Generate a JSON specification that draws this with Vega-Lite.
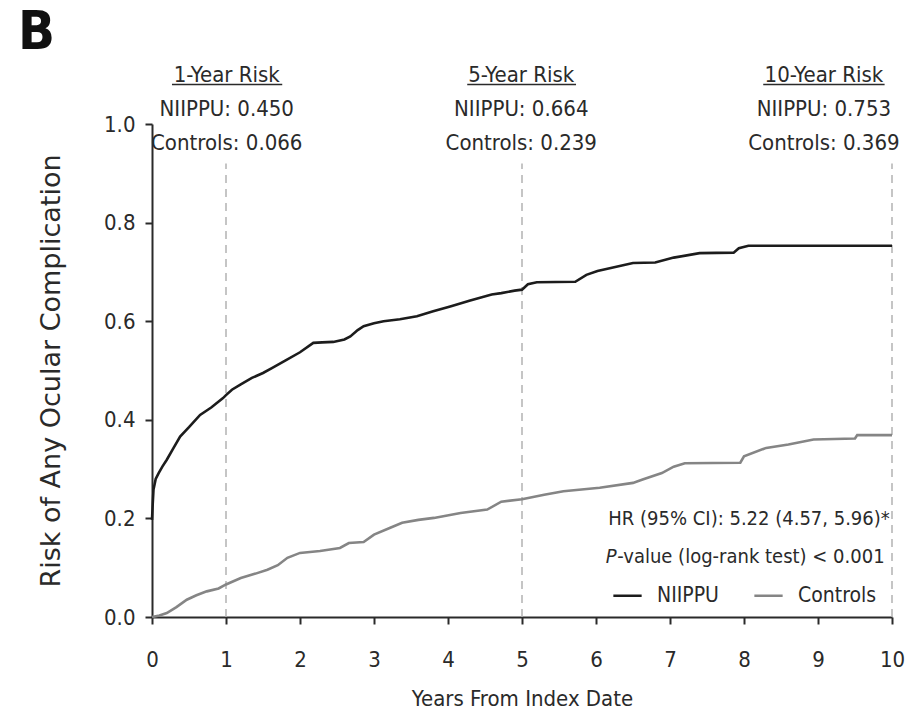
{
  "$schema": "https://vega.github.io/schema/vega-lite/v6.json",
  "width": 740,
  "height": 493,
  "autosize": "none",
  "padding": {"left": 152, "top": 124, "right": 26, "bottom": 100},
  "background": "white",
  "datasets": {
    "curves": [
      {"years": 0, "risk": 0.197, "group": "NIIPPU"},
      {"years": 0.01, "risk": 0.23, "group": "NIIPPU"},
      {"years": 0.02, "risk": 0.258, "group": "NIIPPU"},
      {"years": 0.05, "risk": 0.28, "group": "NIIPPU"},
      {"years": 0.09, "risk": 0.292, "group": "NIIPPU"},
      {"years": 0.14, "risk": 0.305, "group": "NIIPPU"},
      {"years": 0.2, "risk": 0.319, "group": "NIIPPU"},
      {"years": 0.28, "risk": 0.34, "group": "NIIPPU"},
      {"years": 0.38, "risk": 0.366, "group": "NIIPPU"},
      {"years": 0.5, "risk": 0.385, "group": "NIIPPU"},
      {"years": 0.65, "risk": 0.41, "group": "NIIPPU"},
      {"years": 0.8, "risk": 0.425, "group": "NIIPPU"},
      {"years": 0.96, "risk": 0.444, "group": "NIIPPU"},
      {"years": 1.0, "risk": 0.45, "group": "NIIPPU"},
      {"years": 1.08, "risk": 0.461, "group": "NIIPPU"},
      {"years": 1.2, "risk": 0.472, "group": "NIIPPU"},
      {"years": 1.35, "risk": 0.485, "group": "NIIPPU"},
      {"years": 1.5, "risk": 0.495, "group": "NIIPPU"},
      {"years": 1.62, "risk": 0.505, "group": "NIIPPU"},
      {"years": 1.8, "risk": 0.52, "group": "NIIPPU"},
      {"years": 2.0, "risk": 0.537, "group": "NIIPPU"},
      {"years": 2.18, "risk": 0.556, "group": "NIIPPU"},
      {"years": 2.3, "risk": 0.557, "group": "NIIPPU"},
      {"years": 2.45, "risk": 0.558, "group": "NIIPPU"},
      {"years": 2.6, "risk": 0.563, "group": "NIIPPU"},
      {"years": 2.68, "risk": 0.569, "group": "NIIPPU"},
      {"years": 2.78, "risk": 0.582, "group": "NIIPPU"},
      {"years": 2.86, "risk": 0.59, "group": "NIIPPU"},
      {"years": 3.0, "risk": 0.596, "group": "NIIPPU"},
      {"years": 3.13, "risk": 0.6, "group": "NIIPPU"},
      {"years": 3.35, "risk": 0.604, "group": "NIIPPU"},
      {"years": 3.58, "risk": 0.61, "group": "NIIPPU"},
      {"years": 3.8, "risk": 0.62, "group": "NIIPPU"},
      {"years": 4.03, "risk": 0.63, "group": "NIIPPU"},
      {"years": 4.3, "risk": 0.642, "group": "NIIPPU"},
      {"years": 4.59, "risk": 0.654, "group": "NIIPPU"},
      {"years": 4.72, "risk": 0.657, "group": "NIIPPU"},
      {"years": 4.9, "risk": 0.662, "group": "NIIPPU"},
      {"years": 5.0, "risk": 0.664, "group": "NIIPPU"},
      {"years": 5.08, "risk": 0.675, "group": "NIIPPU"},
      {"years": 5.2, "risk": 0.679, "group": "NIIPPU"},
      {"years": 5.72, "risk": 0.68, "group": "NIIPPU"},
      {"years": 5.87, "risk": 0.694, "group": "NIIPPU"},
      {"years": 6.02, "risk": 0.702, "group": "NIIPPU"},
      {"years": 6.2, "risk": 0.708, "group": "NIIPPU"},
      {"years": 6.5, "risk": 0.718, "group": "NIIPPU"},
      {"years": 6.8, "risk": 0.719, "group": "NIIPPU"},
      {"years": 7.05, "risk": 0.729, "group": "NIIPPU"},
      {"years": 7.4, "risk": 0.738, "group": "NIIPPU"},
      {"years": 7.86, "risk": 0.739, "group": "NIIPPU"},
      {"years": 7.93, "risk": 0.748, "group": "NIIPPU"},
      {"years": 8.06, "risk": 0.753, "group": "NIIPPU"},
      {"years": 10, "risk": 0.753, "group": "NIIPPU"},
      {"years": 0, "risk": 0, "group": "Controls"},
      {"years": 0.1, "risk": 0.003, "group": "Controls"},
      {"years": 0.2, "risk": 0.008, "group": "Controls"},
      {"years": 0.33, "risk": 0.02, "group": "Controls"},
      {"years": 0.47, "risk": 0.035, "group": "Controls"},
      {"years": 0.6, "risk": 0.044, "group": "Controls"},
      {"years": 0.74, "risk": 0.052, "group": "Controls"},
      {"years": 0.9, "risk": 0.058, "group": "Controls"},
      {"years": 1.0, "risk": 0.066, "group": "Controls"},
      {"years": 1.2, "risk": 0.079, "group": "Controls"},
      {"years": 1.4, "risk": 0.088, "group": "Controls"},
      {"years": 1.56, "risk": 0.096, "group": "Controls"},
      {"years": 1.7, "risk": 0.105, "group": "Controls"},
      {"years": 1.83, "risk": 0.12, "group": "Controls"},
      {"years": 2.0, "risk": 0.13, "group": "Controls"},
      {"years": 2.27, "risk": 0.134, "group": "Controls"},
      {"years": 2.54, "risk": 0.14, "group": "Controls"},
      {"years": 2.66, "risk": 0.15, "group": "Controls"},
      {"years": 2.86, "risk": 0.152, "group": "Controls"},
      {"years": 3.0, "risk": 0.167, "group": "Controls"},
      {"years": 3.22, "risk": 0.181, "group": "Controls"},
      {"years": 3.38, "risk": 0.191, "group": "Controls"},
      {"years": 3.6, "risk": 0.197, "group": "Controls"},
      {"years": 3.81, "risk": 0.201, "group": "Controls"},
      {"years": 4.17, "risk": 0.211, "group": "Controls"},
      {"years": 4.53, "risk": 0.218, "group": "Controls"},
      {"years": 4.72, "risk": 0.234, "group": "Controls"},
      {"years": 5.0, "risk": 0.239, "group": "Controls"},
      {"years": 5.3, "risk": 0.248, "group": "Controls"},
      {"years": 5.56, "risk": 0.255, "group": "Controls"},
      {"years": 6.05, "risk": 0.262, "group": "Controls"},
      {"years": 6.5, "risk": 0.272, "group": "Controls"},
      {"years": 6.63, "risk": 0.279, "group": "Controls"},
      {"years": 6.89, "risk": 0.292, "group": "Controls"},
      {"years": 7.05, "risk": 0.305, "group": "Controls"},
      {"years": 7.2, "risk": 0.312, "group": "Controls"},
      {"years": 7.95, "risk": 0.313, "group": "Controls"},
      {"years": 8.0, "risk": 0.326, "group": "Controls"},
      {"years": 8.3, "risk": 0.343, "group": "Controls"},
      {"years": 8.6, "risk": 0.35, "group": "Controls"},
      {"years": 8.94, "risk": 0.36, "group": "Controls"},
      {"years": 9.5, "risk": 0.362, "group": "Controls"},
      {"years": 9.53, "risk": 0.369, "group": "Controls"},
      {"years": 10, "risk": 0.369, "group": "Controls"}
    ],
    "markers": [{"year": 1}, {"year": 5}, {"year": 10}],
    "one": [{}]
  },
  "layer": [
    {
      "data": {"name": "markers"},
      "mark": {"type": "rule", "strokeDash": [8, 6], "color": "#b3b3b3", "strokeWidth": 1.5},
      "encoding": {
        "x": {"field": "year", "type": "quantitative", "scale": {"domain": [0, 10], "nice": false}},
        "y": {"datum": 0, "type": "quantitative"},
        "y2": {"datum": 0.92}
      }
    },
    {
      "data": {"name": "curves"},
      "mark": {"type": "line", "strokeWidth": 2.6, "interpolate": "linear"},
      "encoding": {
        "x": {"field": "years", "type": "quantitative", "scale": {"domain": [0, 10], "nice": false},
          "axis": {"values": [0, 1, 2, 3, 4, 5, 6, 7, 8, 9, 10], "format": "d", "title": "Years From Index Date"}},
        "y": {"field": "risk", "type": "quantitative", "scale": {"domain": [0, 1], "nice": false},
          "axis": {"values": [0, 0.2, 0.4, 0.6, 0.8, 1.0], "format": ".1f", "title": "Risk of Any Ocular Complication",
            "titleFont": "DejaVu Sans", "titleFontSize": 27, "titlePadding": 38}},
        "color": {"field": "group", "type": "nominal", "sort": ["NIIPPU", "Controls"],
          "scale": {"domain": ["NIIPPU", "Controls"], "range": ["#1c1c1c", "#858585"]},
          "legend": {"orient": "none", "legendX": 460, "legendY": 456, "direction": "horizontal", "title": null,
            "symbolType": "stroke", "symbolSize": 800, "symbolStrokeWidth": 2.5, "labelFontSize": 21,
            "labelColor": "#2a2a2a", "labelOffset": 14, "columnPadding": 30, "padding": 0}}
      }
    },
    {
      "data": {"name": "one"},
      "mark": {"type": "text", "text": "B", "align": "left", "baseline": "middle", "fontSize": 54, "fontWeight": "bold", "color": "#111111"},
      "encoding": {"x": {"datum": -1.81, "type": "quantitative"}, "y": {"datum": 1.185, "type": "quantitative"}}
    },
    {
      "data": {"name": "one"},
      "mark": {"type": "text", "text": ["1-Year Risk", "NIIPPU: 0.450", "Controls: 0.066"], "lineHeight": 34, "baseline": "middle", "align": "center", "fontSize": 22, "color": "#2a2a2a"},
      "encoding": {"x": {"datum": 1.01, "type": "quantitative"}, "y": {"datum": 1.1, "type": "quantitative"}}
    },
    {
      "data": {"name": "one"},
      "mark": {"type": "text", "text": ["5-Year Risk", "NIIPPU: 0.664", "Controls: 0.239"], "lineHeight": 34, "baseline": "middle", "align": "center", "fontSize": 22, "color": "#2a2a2a"},
      "encoding": {"x": {"datum": 4.99, "type": "quantitative"}, "y": {"datum": 1.1, "type": "quantitative"}}
    },
    {
      "data": {"name": "one"},
      "mark": {"type": "text", "text": ["10-Year Risk", "NIIPPU: 0.753", "Controls: 0.369"], "lineHeight": 34, "baseline": "middle", "align": "center", "fontSize": 22, "color": "#2a2a2a"},
      "encoding": {"x": {"datum": 9.08, "type": "quantitative"}, "y": {"datum": 1.1, "type": "quantitative"}}
    },
    {
      "data": {"name": "one"},
      "mark": {"type": "rule", "color": "#2a2a2a", "strokeWidth": 1.5},
      "encoding": {"x": {"datum": 0.27, "type": "quantitative"}, "x2": {"datum": 1.76}, "y": {"datum": 1.08, "type": "quantitative"}}
    },
    {
      "data": {"name": "one"},
      "mark": {"type": "rule", "color": "#2a2a2a", "strokeWidth": 1.5},
      "encoding": {"x": {"datum": 4.26, "type": "quantitative"}, "x2": {"datum": 5.73}, "y": {"datum": 1.08, "type": "quantitative"}}
    },
    {
      "data": {"name": "one"},
      "mark": {"type": "rule", "color": "#2a2a2a", "strokeWidth": 1.5},
      "encoding": {"x": {"datum": 8.26, "type": "quantitative"}, "x2": {"datum": 9.9}, "y": {"datum": 1.08, "type": "quantitative"}}
    },
    {
      "data": {"name": "one"},
      "mark": {"type": "text", "text": "HR (95% CI): 5.22 (4.57, 5.96)*", "align": "right", "baseline": "middle", "fontSize": 20, "color": "#2a2a2a"},
      "encoding": {"x": {"datum": 9.97, "type": "quantitative"}, "y": {"datum": 0.199, "type": "quantitative"}}
    },
    {
      "data": {"name": "one"},
      "mark": {"type": "text", "text": "-value (log-rank test) < 0.001", "align": "right", "baseline": "middle", "fontSize": 20, "color": "#2a2a2a"},
      "encoding": {"x": {"datum": 9.9, "type": "quantitative"}, "y": {"datum": 0.122, "type": "quantitative"}}
    },
    {
      "data": {"name": "one"},
      "mark": {"type": "text", "text": "P", "align": "right", "baseline": "middle", "fontSize": 20, "fontStyle": "italic", "dx": -268, "color": "#2a2a2a"},
      "encoding": {"x": {"datum": 9.9, "type": "quantitative"}, "y": {"datum": 0.122, "type": "quantitative"}}
    }
  ],
  "config": {
    "view": {"stroke": null},
    "font": "DejaVu Sans Condensed, Liberation Sans, sans-serif",
    "text": {"font": "DejaVu Sans Condensed, Liberation Sans, sans-serif"},
    "legend": {"labelFont": "DejaVu Sans Condensed, Liberation Sans, sans-serif"},
    "axis": {
      "grid": false,
      "domainColor": "#2a2a2a",
      "domainWidth": 2,
      "tickColor": "#2a2a2a",
      "tickWidth": 2,
      "tickSize": 7,
      "labelFont": "DejaVu Sans Condensed, Liberation Sans, sans-serif",
      "labelFontSize": 22,
      "labelColor": "#2a2a2a",
      "titleFont": "DejaVu Sans Condensed, Liberation Sans, sans-serif",
      "titleFontSize": 22,
      "titleFontWeight": "normal",
      "titleColor": "#2a2a2a"
    },
    "axisX": {"labelPadding": 25, "titlePadding": 18, "labelFlush": false},
    "axisY": {"labelPadding": 10, "labelFlush": false}
  }
}
